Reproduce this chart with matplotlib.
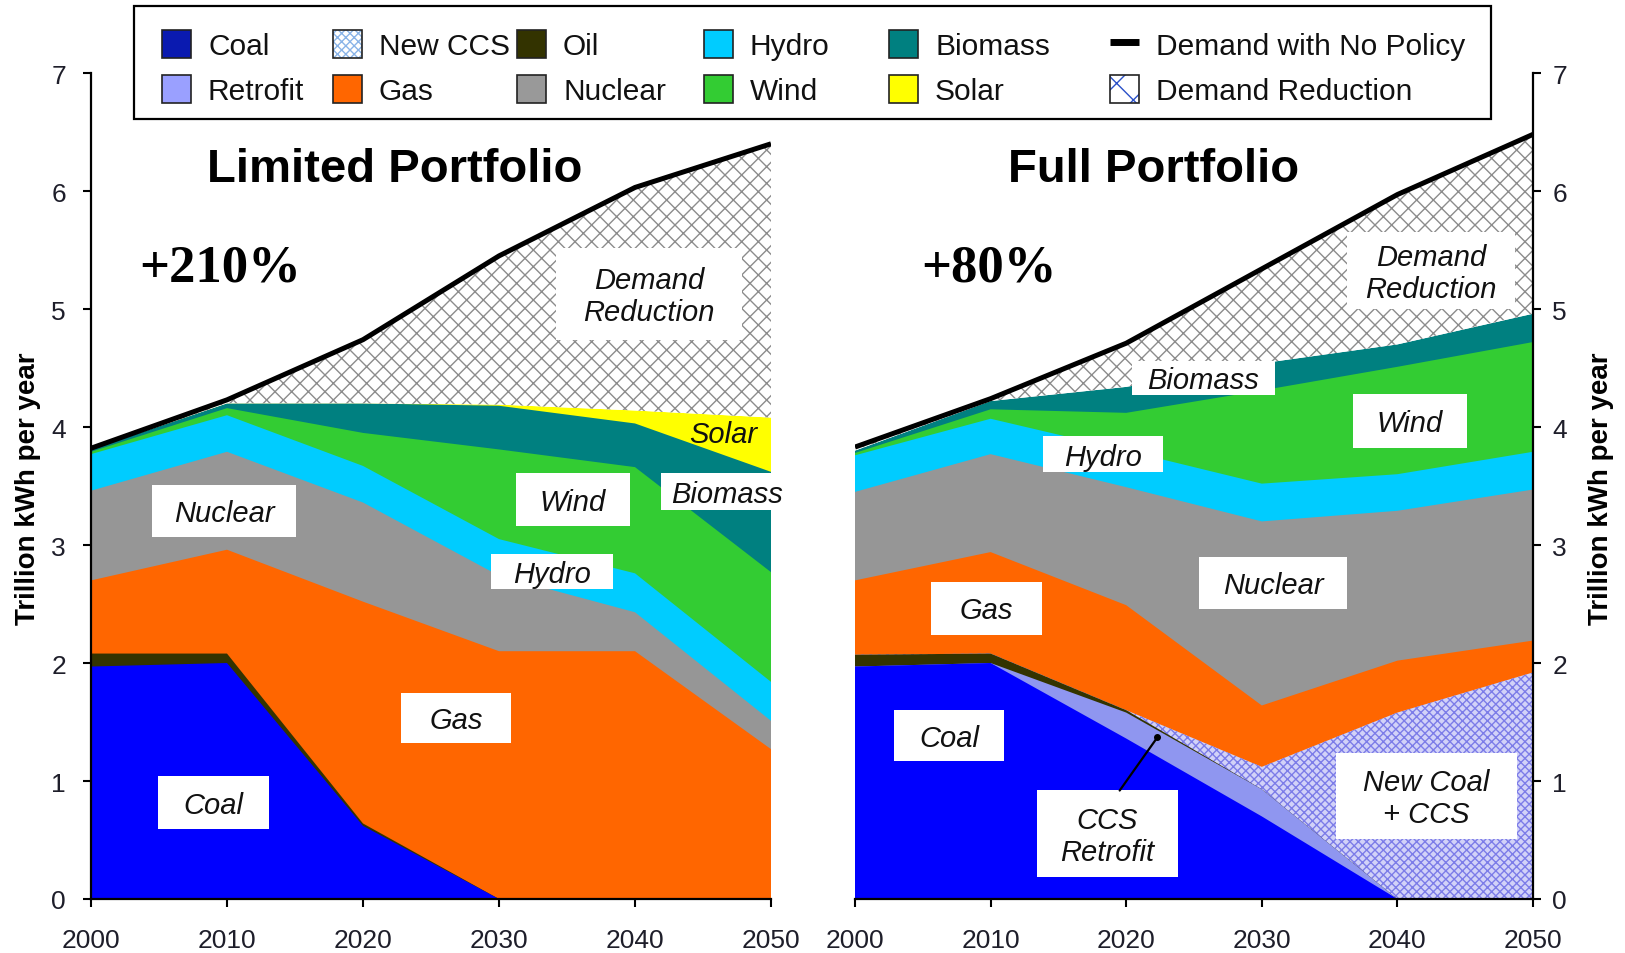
import numpy as np
import matplotlib
matplotlib.use("Agg")
import matplotlib.pyplot as plt
from matplotlib.patches import Rectangle

plt.rcParams['font.family'] = ['Liberation Sans', 'DejaVu Sans']
plt.rcParams['hatch.linewidth'] = 1.0

# ---------------- data ----------------
years = [2000, 2010, 2020, 2030, 2040, 2050]

# Limited Portfolio (Trillion kWh per year)
lim_coal = [1.97, 2.00, 0.62, 0.00, 0.00, 0.00]
lim_retrofit = [0, 0, 0, 0, 0, 0]
lim_oil = [0.11, 0.08, 0.02, 0.00, 0.00, 0.00]
lim_newccs = [0, 0, 0, 0, 0, 0]
lim_gas = [0.62, 0.88, 1.88, 2.10, 2.10, 1.27]
lim_nuclear = [0.76, 0.83, 0.84, 0.64, 0.33, 0.24]
lim_hydro = [0.31, 0.31, 0.31, 0.31, 0.33, 0.33]
lim_wind = [0.02, 0.06, 0.28, 0.76, 0.90, 0.93]
lim_biomass = [0.02, 0.04, 0.25, 0.37, 0.37, 0.85]
lim_solar = [0.00, 0.00, 0.00, 0.01, 0.11, 0.46]
lim_demand = [3.82, 4.23, 4.74, 5.45, 6.03, 6.40]

# Full Portfolio
full_coal = [1.97, 2.00, 1.36, 0.70, 0.00, 0.00]
full_retrofit = [0.00, 0.00, 0.22, 0.23, 0.00, 0.00]
full_oil = [0.10, 0.08, 0.02, 0.00, 0.00, 0.00]
full_newccs = [0.00, 0.00, 0.00, 0.19, 1.58, 1.92]
full_gas = [0.63, 0.86, 0.89, 0.52, 0.44, 0.27]
full_nuclear = [0.75, 0.83, 1.00, 1.56, 1.27, 1.28]
full_hydro = [0.31, 0.30, 0.31, 0.32, 0.31, 0.32]
full_wind = [0.02, 0.08, 0.32, 0.79, 0.91, 0.93]
full_biomass = [0.02, 0.07, 0.22, 0.23, 0.19, 0.24]
full_solar = [0, 0, 0, 0, 0, 0]
full_demand = [3.83, 4.24, 4.71, 5.34, 5.97, 6.48]

layer_names = ["Coal", "Retrofit", "Oil", "New CCS", "Gas", "Nuclear",
               "Hydro", "Wind", "Biomass", "Solar"]
lim_layers = [lim_coal, lim_retrofit, lim_oil, lim_newccs, lim_gas, lim_nuclear,
              lim_hydro, lim_wind, lim_biomass, lim_solar]
full_layers = [full_coal, full_retrofit, full_oil, full_newccs, full_gas, full_nuclear,
               full_hydro, full_wind, full_biomass, full_solar]

colors = {"Coal": "#0000ff", "Retrofit": "#8f96f0", "Oil": "#333300",
          "New CCS": "#d2d2f8", "Gas": "#ff6600", "Nuclear": "#969696",
          "Hydro": "#00ccff", "Wind": "#33cc33", "Biomass": "#008080",
          "Solar": "#ffff00"}

y_ticks = [0, 1, 2, 3, 4, 5, 6, 7]
x_ticks = [2000, 2010, 2020, 2030, 2040, 2050]

W, H = 1625, 954
fig = plt.figure(figsize=(W / 100, H / 100), dpi=100)
fig.patch.set_facecolor("white")

def px_axes(x0, x1, y_top, y_bot):
    return [x0 / W, 1 - y_bot / H, (x1 - x0) / W, (y_bot - y_top) / H]

axL = fig.add_axes(px_axes(91, 771, 74, 900))
axR = fig.add_axes(px_axes(855, 1533, 74, 900))

def draw_stack(ax, layers, demand):
    x = np.array(years, dtype=float)
    cum = np.cumsum(np.array(layers, dtype=float), axis=0)
    zero = np.zeros(len(years))
    # paint cumulative totals from the top layer down so that each layer
    # shows only its own band and no seams / zero-width edges appear
    for k in range(len(layer_names) - 1, -1, -1):
        name = layer_names[k]
        if not np.any(np.array(layers[k]) > 0):
            continue
        if name == "New CCS":
            ax.fill_between(x, zero, cum[k], facecolor=colors[name],
                            edgecolor="#7c7ce8", hatch="xxxx", linewidth=0, zorder=2)
        else:
            ax.fill_between(x, zero, cum[k], facecolor=colors[name],
                            linewidth=0, zorder=2)
    d = np.array(demand, dtype=float)
    ax.fill_between(x, cum[-1], d, facecolor="white", edgecolor="#8c8c8c",
                    hatch="xx", linewidth=0, zorder=2)
    ax.plot(x, d, color="black", lw=3.6, solid_joinstyle="round",
            solid_capstyle="butt", zorder=4)

draw_stack(axL, lim_layers, lim_demand)
draw_stack(axR, full_layers, full_demand)

for ax in (axL, axR):
    ax.set_xlim(2000, 2050)
    ax.set_ylim(0, 7)
    ax.set_xticks(x_ticks)
    ax.set_yticks(y_ticks)
    ax.spines["top"].set_visible(False)
    for s in ax.spines.values():
        s.set_linewidth(1.6)
        s.set_zorder(6)
    ax.tick_params(direction="out", length=6, width=1.5, labelsize=19,
                   labelcolor="#1e1e2a")
    ax.tick_params(axis="x", pad=15)
    ax.set_facecolor("none")

axL.spines["right"].set_visible(False)
axL.tick_params(axis="y", pad=12)
axR.spines["left"].set_visible(False)
axR.yaxis.tick_right()
axR.tick_params(axis="y", pad=8)

# -------- in-chart labels --------
def box_label(ax, x0, x1, y0, y1, text, fs=21, box=True):
    if box:
        ax.add_patch(Rectangle((x0, y0), x1 - x0, y1 - y0, facecolor="white",
                               edgecolor="none", zorder=7, clip_on=False))
    ax.text((x0 + x1) / 2, (y0 + y1) / 2 - 0.02, text, ha="center", va="center",
            style="italic", fontsize=fs, zorder=8, linespacing=1.15,
            color="#111111", clip_on=False)

box_label(axL, 2034.2, 2047.9, 4.74, 5.52, "Demand\nReduction")
box_label(axL, 2043.0, 2050.0, 3.88, 4.04, "Solar", box=False)
box_label(axL, 2041.9, 2051.6, 3.30, 3.61, "Biomass")
box_label(axL, 2031.25, 2039.6, 3.16, 3.61, "Wind")
box_label(axL, 2029.4, 2038.4, 2.63, 2.92, "Hydro")
box_label(axL, 2004.5, 2015.1, 3.07, 3.51, "Nuclear")
box_label(axL, 2022.8, 2030.9, 1.32, 1.75, "Gas")
box_label(axL, 2004.9, 2013.1, 0.59, 1.04, "Coal")

box_label(axR, 2036.3, 2048.7, 5.00, 5.65, "Demand\nReduction")
box_label(axR, 2020.4, 2031.0, 4.27, 4.56, "Biomass")
box_label(axR, 2036.7, 2045.1, 3.82, 4.28, "Wind")
box_label(axR, 2013.9, 2022.7, 3.62, 3.92, "Hydro")
box_label(axR, 2025.4, 2036.3, 2.46, 2.90, "Nuclear")
box_label(axR, 2005.6, 2013.8, 2.24, 2.69, "Gas")
box_label(axR, 2002.9, 2011.0, 1.17, 1.60, "Coal")
box_label(axR, 2013.4, 2023.8, 0.19, 0.92, "CCS\nRetrofit")
box_label(axR, 2035.5, 2048.8, 0.51, 1.24, "New Coal\n+ CCS")
axR.annotate("", xy=(2022.3, 1.37), xytext=(2019.4, 0.90),
             arrowprops=dict(arrowstyle="-", lw=1.6, color="black"), zorder=9)
axR.plot([2022.3], [1.37], marker="o", ms=4, color="black", zorder=9)

# titles and percentages
fig.text(395 / W, 1 - 170 / H, "Limited Portfolio", ha="center", va="center",
         fontsize=34, fontweight="bold")
fig.text(1154 / W, 1 - 170 / H, "Full Portfolio", ha="center", va="center",
         fontsize=34, fontweight="bold")
fig.text(139 / W, 1 - 269 / H, "+210%", ha="left", va="center", fontsize=38,
         fontweight="bold", family=["Liberation Serif", "DejaVu Serif"])
fig.text(921 / W, 1 - 269 / H, "+80%", ha="left", va="center", fontsize=38,
         fontweight="bold", family=["Liberation Serif", "DejaVu Serif"])

# y labels
fig.text(28 / W, 1 - 489 / H, "Trillion kWh per year", rotation=90, ha="center",
         va="center", fontsize=20, fontweight="bold")
fig.text(1601 / W, 1 - 489 / H, "Trillion kWh per year", rotation=90, ha="center",
         va="center", fontsize=20, fontweight="bold")

# -------- legend (drawn in pixel coordinates) --------
lax = fig.add_axes([0, 0, 1, 1], zorder=20)
lax.set_xlim(0, W)
lax.set_ylim(H, 0)
lax.axis("off")
lax.patch.set_visible(False)
lax.add_patch(Rectangle((134, 7), 1357, 113, facecolor="white",
                        edgecolor="black", lw=1.6))

leg_rows = [45, 90]
leg_cols = [162, 333, 517, 704, 889, 1110]
leg_text_dx = 46
leg_items = [
    ("Coal", 0, 0, "#0a1ab0", None, None),
    ("Retrofit", 0, 1, "#9aa0ff", None, None),
    ("New CCS", 1, 0, "#ffffff", "xxxx", "#8ab4e8"),
    ("Gas", 1, 1, "#ff6600", None, None),
    ("Oil", 2, 0, "#333300", None, None),
    ("Nuclear", 2, 1, "#999999", None, None),
    ("Hydro", 3, 0, "#00ccff", None, None),
    ("Wind", 3, 1, "#33cc33", None, None),
    ("Biomass", 4, 0, "#008080", None, None),
    ("Solar", 4, 1, "#ffff00", None, None),
    ("Demand Reduction", 5, 1, "#ffffff", "x", "#2a50c8"),
]
for name, c, r, fc, hatch, hc in leg_items:
    x0 = leg_cols[c]
    yc = leg_rows[r]
    if hatch:
        lax.add_patch(Rectangle((x0, yc - 14), 29, 28, facecolor=fc,
                                edgecolor=hc, hatch=hatch, lw=0))
        lax.add_patch(Rectangle((x0, yc - 14), 29, 28, facecolor="none",
                                edgecolor="#222222", lw=1.2))
    else:
        lax.add_patch(Rectangle((x0, yc - 14), 29, 28, facecolor=fc,
                                edgecolor="#222222", lw=1.2))
    lax.text(x0 + leg_text_dx, yc + 2, name, ha="left", va="center", fontsize=21.5,
             color="#111111")
# demand line legend entry
lax.plot([leg_cols[5], leg_cols[5] + 29], [leg_rows[0] - 2, leg_rows[0] - 2],
         color="black", lw=5, solid_capstyle="butt")
lax.text(leg_cols[5] + leg_text_dx, leg_rows[0] + 2, "Demand with No Policy",
         ha="left", va="center", fontsize=21.5, color="#111111")

fig.savefig("out.png", dpi=100, facecolor="white")
